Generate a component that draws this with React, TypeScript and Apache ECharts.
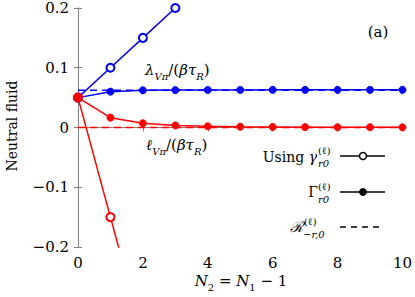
import React, { useEffect, useRef } from "react";
import * as echarts from "echarts";

const xs = [0, 1, 2, 3, 4, 5, 6, 7, 8, 9, 10];
const blueOpen = [0.05, 0.1, 0.15, 0.2];
const redOpen = [0.05, -0.15, -0.35];
const blueFilled = [0.05, 0.06, 0.0622, 0.0626, 0.0628, 0.0629, 0.063, 0.063, 0.063, 0.063, 0.063];
const redFilled = [0.05, 0.0165, 0.007, 0.0035, 0.002, 0.0013, 0.0009, 0.0006, 0.0005, 0.0004, 0.0003];
const blueDashed = 0.0625;
const redDashed = 0;

const FONT = "DejaVu Serif";
const BLUE = "#0000ff";
const RED = "#ff0000";
const GRAY = "#808080";

const pair = (arr: number[]) => arr.map((v, i) => [xs[i], v]);

export default function App() {
  const ref = useRef<HTMLDivElement>(null);
  useEffect(() => {
    const chart = echarts.init(ref.current!, null, { renderer: "svg" });
    const fmtY = (v: number) => {
      const r = Math.round(v * 10) / 10;
      return r < 0 ? "\u2212" + Math.abs(r) : String(r);
    };
    const axisCommon = {
      axisLine: { show: true, lineStyle: { color: GRAY, width: 1 } },
      axisTick: { show: true, inside: true, length: 4, lineStyle: { color: GRAY } },
      splitLine: { show: false },
    };
    const lineSeries = (data: number[][], color: string, symbol: string, dashed = false, z = 2) => ({
      type: "line",
      data,
      xAxisIndex: 0,
      yAxisIndex: 0,
      symbol,
      symbolSize: symbol === "none" ? 0 : symbol === "circle" ? 7 : 8,
      showSymbol: symbol !== "none",
      clip: true,
      z,
      lineStyle: { color, width: 1.5, type: dashed ? [7, 5] : "solid" },
      itemStyle: { color, borderColor: color, borderWidth: symbol === "circle" ? 1 : 1.5 },
    });
    const t = (text: string, x: number, y: number, size = 15, extra: any = {}) => ({
      type: "text",
      x,
      y,
      style: { text, fontFamily: FONT, fontSize: size, fill: "#000", textVerticalAlign: "middle", ...extra },
    });
    const richLabel = {
      i: { fontFamily: FONT, fontSize: 15, fontStyle: "italic", lineHeight: 22 },
      n: { fontFamily: FONT, fontSize: 15, lineHeight: 22 },
      s: { fontFamily: FONT, fontSize: 10, fontStyle: "italic", verticalAlign: "bottom", lineHeight: 22 },
    };
    chart.setOption({
      animation: false,
      textStyle: { fontFamily: FONT },
      grid: { left: 78, right: 9, top: 8, bottom: 50, show: false },
      xAxis: [
        {
          type: "value", min: 0, max: 10, interval: 2, position: "bottom",
          ...axisCommon,
          axisLabel: { fontFamily: FONT, fontSize: 15, color: "#000", margin: 8 },
        },
        {
          type: "value", min: 0, max: 10, interval: 2, position: "top",
          ...axisCommon, axisLabel: { show: false },
        },
      ],
      yAxis: [
        {
          type: "value", min: -0.2, max: 0.2, interval: 0.1, position: "left",
          ...axisCommon,
          axisLabel: { fontFamily: FONT, fontSize: 15, color: "#000", margin: 9, formatter: fmtY },
        },
        {
          type: "value", min: -0.2, max: 0.2, interval: 0.1, position: "right",
          ...axisCommon, axisLabel: { show: false },
        },
      ],
      series: [
        lineSeries([[0, redDashed], [10, redDashed]], RED, "none", true, 1),
        lineSeries([[0, blueDashed], [10, blueDashed]], BLUE, "none", true, 1),
        lineSeries(pair(blueFilled), BLUE, "circle", false, 2),
        lineSeries(pair(blueOpen), BLUE, "emptyCircle", false, 3),
        lineSeries(pair(redOpen), RED, "emptyCircle", false, 3),
        lineSeries(pair(redFilled), RED, "circle", false, 4),
      ],
      graphic: [
        {
          type: "text", x: 12, y: 126, rotation: Math.PI / 2,
          style: { text: "Neutral fluid", fontFamily: FONT, fontSize: 14, fill: "#000", textAlign: "center", textVerticalAlign: "middle" },
        },
        {
          type: "text", x: 241, y: 281,
          style: {
            text: "{i|N}{s|2}{n| = }{i|N}{s|1}{n| \u2212 1}",
            fontFamily: FONT, fontSize: 15, fill: "#000", textAlign: "center", textVerticalAlign: "middle",
            rich: { ...richLabel, s: { ...richLabel.s, fontStyle: "normal" } },
          },
        },
        t("(a)", 378, 32, 15, { textAlign: "center" }),
        {
          type: "text", x: 145, y: 70,
          style: {
            text: "{i|\u03bb}{s|V\u03c0}{n|/(}{i|\u03b2\u03c4}{s|R}{n|)}",
            fontFamily: FONT, fontSize: 15, fill: "#000", textVerticalAlign: "middle",
            rich: richLabel,
          },
        },
        {
          type: "text", x: 146, y: 145,
          style: {
            text: "{i|\u2113}{s|V\u03c0}{n|/(}{i|\u03b2\u03c4}{s|R}{n|)}",
            fontFamily: FONT, fontSize: 15, fill: "#000", textVerticalAlign: "middle",
            rich: richLabel,
          },
        },
        {
          type: "text", x: 317, y: 157,
          style: {
            text: "{n|Using }{i|\u03b3}", fontFamily: FONT, fontSize: 14, fill: "#000", textAlign: "right", textVerticalAlign: "middle",
            rich: { n: { fontFamily: FONT, fontSize: 14 }, i: { fontFamily: FONT, fontSize: 14, fontStyle: "italic" } },
          },
        },
        t("(\u2113)", 318, 150, 10),
        t("r0", 318, 163, 10, { fontStyle: "italic" }),
        { type: "line", shape: { x1: 340, y1: 156, x2: 385, y2: 156 }, style: { stroke: "#000", lineWidth: 1.5 } },
        { type: "circle", shape: { cx: 363, cy: 156, r: 3.5 }, style: { fill: "#fff", stroke: "#000", lineWidth: 1.5 } },
        t("\u0393", 318, 192, 14, { textAlign: "right" }),
        t("(\u2113)", 318, 186, 10),
        t("r0", 318, 199, 10, { fontStyle: "italic" }),
        { type: "line", shape: { x1: 340, y1: 192, x2: 385, y2: 192 }, style: { stroke: "#000", lineWidth: 1.5 } },
        { type: "circle", shape: { cx: 363, cy: 192, r: 3.5 }, style: { fill: "#000", stroke: "#000", lineWidth: 1 } },
        t("\u211b", 303, 227, 15, { textAlign: "right", fontStyle: "italic" }),
        t("(\u2113)", 304, 221, 10),
        t("\u2212r,0", 303, 234, 10, { fontStyle: "italic" }),
        { type: "line", shape: { x1: 340, y1: 227, x2: 380, y2: 227 }, style: { stroke: "#000", lineWidth: 1.5, lineDash: [6, 5] } },
      ],
    });
    return () => chart.dispose();
  }, []);
  return <div ref={ref} style={{ width: 415, height: 297, position: "absolute", left: 0, top: 0 }} />;
}
